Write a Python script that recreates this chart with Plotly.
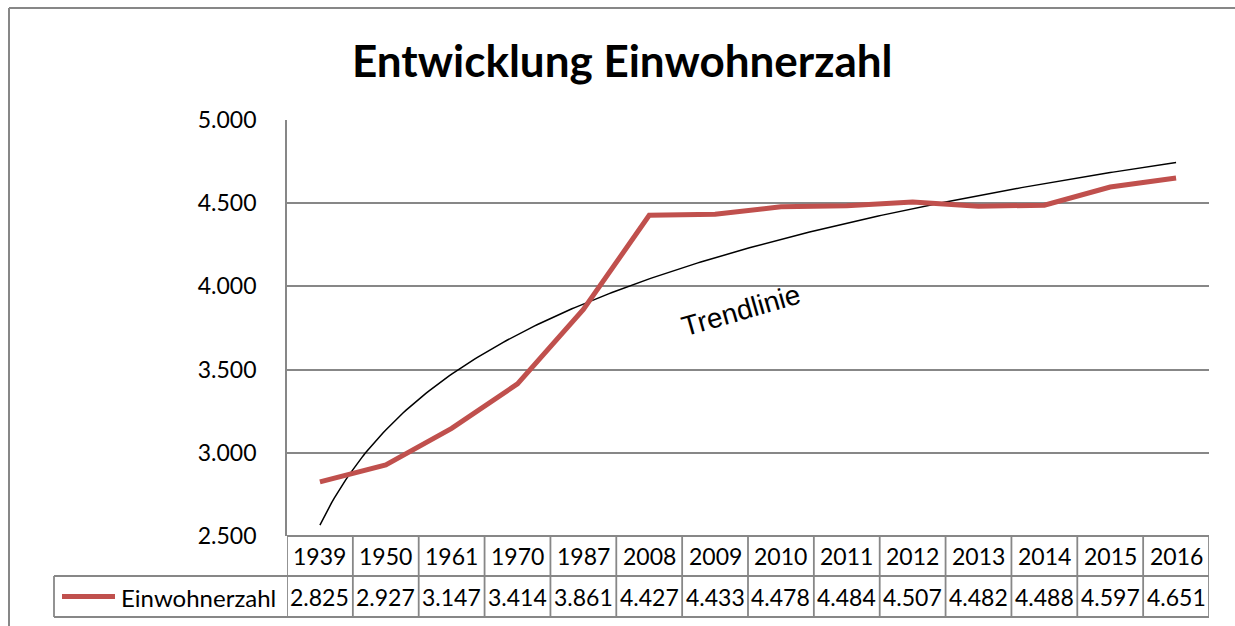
import numpy as np
import plotly.graph_objects as go

years = ["1939", "1950", "1961", "1970", "1987", "2008", "2009", "2010",
         "2011", "2012", "2013", "2014", "2015", "2016"]
einwohner = [2825, 2927, 3147, 3414, 3861, 4427, 4433, 4478,
             4484, 4507, 4482, 4488, 4597, 4651]
series_name = "Einwohnerzahl"
title_text = "Entwicklung Einwohnerzahl"
trend_label = "Trendlinie"
y_ticks = [2500, 3000, 3500, 4000, 4500, 5000]

W, H = 1235, 626
def px(x):
    return x / W
def py(y):
    return 1 - y / H

RED = "#C0504D"
GRID = "#878787"
FONT = "Lato"

n = len(years)
pos = list(range(n))

# logarithmic trendline (least squares, like Excel's log trendline)
idx = np.arange(1, n + 1)
a, b = np.polyfit(np.log(idx), np.array(einwohner, dtype=float), 1)
xs = np.linspace(1, n, 300)
trend_y = a * np.log(xs) + b

fig = go.Figure()
fig.add_trace(go.Scatter(x=xs - 1, y=trend_y, mode="lines",
                         line=dict(color="black", width=1.5),
                         showlegend=False, hoverinfo="skip"))
fig.add_trace(go.Scatter(x=pos, y=einwohner, mode="lines", name=series_name,
                         line=dict(color=RED, width=5), showlegend=False))

shapes = []
# outer chart border (top and left)
shapes.append(dict(type="line", xref="paper", yref="paper", x0=px(9), x1=1.0,
                   y0=py(8), y1=py(8), line=dict(color=GRID, width=2)))
shapes.append(dict(type="line", xref="paper", yref="paper", x0=px(9), x1=px(9),
                   y0=py(8), y1=0, line=dict(color=GRID, width=2)))

# data table lines
row_top, row_mid, row_bot = 536, 576, 617
LW = 1.8
shapes.append(dict(type="line", xref="x", yref="paper", x0=-0.5, x1=n - 0.5,
                   y0=py(row_top), y1=py(row_top), line=dict(color=GRID, width=LW)))
for yy in (row_mid, row_bot):
    shapes.append(dict(type="line", xref="paper", yref="paper", x0=px(54), x1=px(1209),
                       y0=py(yy), y1=py(yy), line=dict(color=GRID, width=LW)))
for k in range(n + 1):
    shapes.append(dict(type="line", xref="x", yref="paper", x0=k - 0.5, x1=k - 0.5,
                       y0=py(row_top), y1=py(row_bot), line=dict(color=GRID, width=LW)))
shapes.append(dict(type="line", xref="paper", yref="paper", x0=px(54), x1=px(54),
                   y0=py(row_mid), y1=py(row_bot), line=dict(color=GRID, width=LW)))
# legend key
shapes.append(dict(type="line", xref="paper", yref="paper", x0=px(62), x1=px(115),
                   y0=py(596.5), y1=py(596.5), line=dict(color=RED, width=5)))

annotations = []
annotations.append(dict(text="<b>" + title_text + "</b>", xref="paper", yref="paper",
                        x=px(622), y=py(60), showarrow=False,
                        font=dict(family=FONT, size=44, color="black"),
                        xanchor="center", yanchor="middle"))
for i, (yr, v) in enumerate(zip(years, einwohner)):
    annotations.append(dict(text=yr, xref="x", yref="paper", x=i, y=py(556),
                            showarrow=False, font=dict(family=FONT, size=23, color="black"),
                            xanchor="center", yanchor="middle"))
    annotations.append(dict(text=f"{v:,}".replace(",", "."), xref="x", yref="paper",
                            x=i, y=py(597), showarrow=False,
                            font=dict(family=FONT, size=23, color="black"),
                            xanchor="center", yanchor="middle"))
annotations.append(dict(text=series_name, xref="paper", yref="paper", x=px(119), y=py(597),
                        showarrow=False, font=dict(family=FONT, size=24, color="black"),
                        xanchor="left", yanchor="middle"))
annotations.append(dict(text=trend_label, xref="paper", yref="paper", x=px(741), y=py(310),
                        showarrow=False, textangle=-16,
                        font=dict(family="Liberation Sans", size=28, color="black"),
                        xanchor="center", yanchor="middle"))

fig.update_layout(
    width=W, height=H,
    margin=dict(l=0, r=0, t=0, b=0, pad=0, autoexpand=False),
    paper_bgcolor="white", plot_bgcolor="white",
    separators=",.",
    showlegend=False,
    shapes=shapes,
    annotations=annotations,
    xaxis=dict(domain=[px(287), px(1209)], range=[-0.5, n - 0.5],
               showgrid=False, zeroline=False, showticklabels=False,
               showline=False, fixedrange=True, automargin=False),
    yaxis=dict(domain=[py(536), py(120)], range=[2500, 5000],
               tickvals=y_ticks, tickformat=",d",
               showgrid=True, gridcolor=GRID, gridwidth=LW,
               showline=True, linecolor=GRID, linewidth=LW,
               zeroline=False, ticks="", ticklabelstandoff=24,
               tickfont=dict(family=FONT, size=23, color="black"),
               fixedrange=True, automargin=False),
)

fig.write_html(
    "out.html",
    config={"displayModeBar": False},
    post_script="document.body.style.margin='0';document.body.style.overflow='hidden';",
)
